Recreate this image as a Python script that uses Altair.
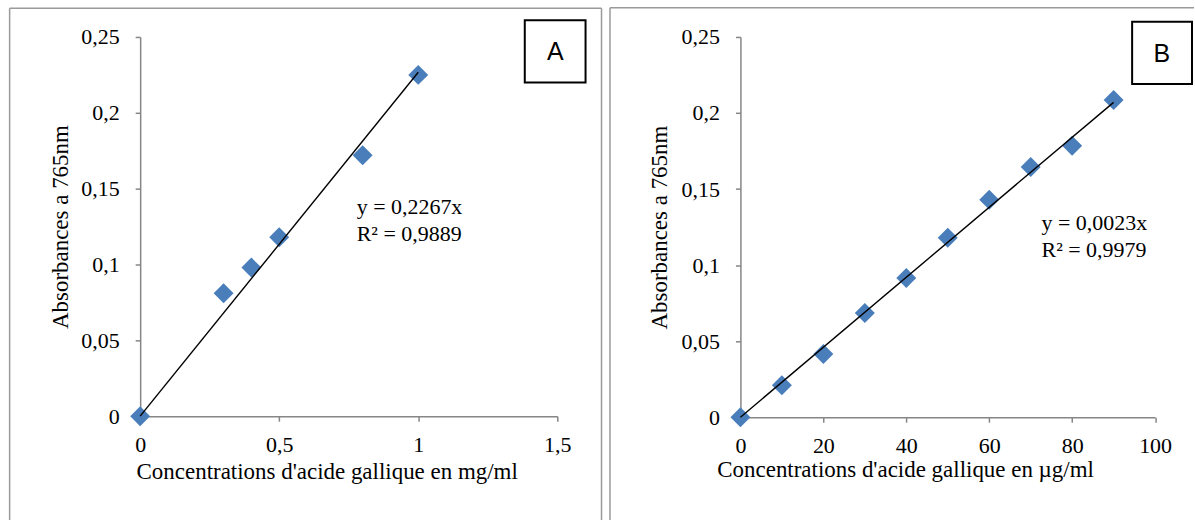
import altair as alt
import pandas as pd

# ---- data ----
conc_a = [0, 0.3, 0.4, 0.5, 0.8, 1.0]
abs_a = [0, 0.081, 0.098, 0.118, 0.172, 0.225]
trend_a_x = [0, 1.0]
trend_a_y = [0, 0.2267]
eq_a = ["y = 0,2267x", "R² = 0,9889"]

conc_b = [0, 10, 20, 30, 40, 50, 60, 70, 80, 90]
abs_b = [0, 0.021, 0.0415, 0.0685, 0.0915, 0.118, 0.143, 0.1645, 0.1785, 0.2085]
trend_b_x = [0, 90]
trend_b_y = [0, 0.207]
eq_b = ["y = 0,0023x", "R² = 0,9979"]

y_ticks = [0, 0.05, 0.1, 0.15, 0.2, 0.25]
x_ticks_a = [0, 0.5, 1, 1.5]
x_ticks_b = [0, 20, 40, 60, 80, 100]

SERIF = "Liberation Serif"
BLUE = "#4a7ebb"
FRAME = "#9a9a9a"
AXIS = "#868686"
LABEL_EXPR = "replace(format(datum.value, '~g'), '.', ',')"

one = pd.DataFrame({"k": [0]})


def panel(conc, absb, tx, ty, xdom, xticks, W, H, xtitle, xtx, xty, ytx,
          frame, box, letter, eq, eqpos):
    df = pd.DataFrame({"c": conc, "a": absb})
    tdf = pd.DataFrame({"c": tx, "a": ty})

    xs = alt.Scale(domain=xdom, nice=False, zero=False)
    ys = alt.Scale(domain=[0, 0.25], nice=False)

    xax = alt.Axis(values=xticks, labelExpr=LABEL_EXPR, title=xtitle,
                   titleX=xtx, titleY=xty, titleAlign="center",
                   titleBaseline="alphabetic", labelPadding=13.5,
                   labelFlush=False, labelOverlap=False)
    yax = alt.Axis(values=y_ticks, labelExpr=LABEL_EXPR, title="Absorbances a 765nm",
                   titleX=ytx, titleY=H / 2, titleAlign="center", titleAngle=270,
                   titleBaseline="alphabetic", labelPadding=16,
                   labelFlush=False, labelOverlap=False)

    pts = alt.Chart(df).mark_point(shape="diamond", filled=True, size=400,
                                   color=BLUE, opacity=1).encode(
        x=alt.X("c:Q", scale=xs, axis=xax),
        y=alt.Y("a:Q", scale=ys, axis=yax),
    )
    line = alt.Chart(tdf).mark_line(color="black", strokeWidth=1.4).encode(
        x=alt.X("c:Q", scale=xs),
        y=alt.Y("a:Q", scale=ys),
    )

    fl, fr, ft, fb, has_right = frame
    layers = [pts, line]
    base = alt.Chart(one)
    layers.append(base.mark_rule(color=FRAME, strokeWidth=1.5).encode(
        x=alt.value(fl), y=alt.value(ft), y2=alt.value(fb)))
    layers.append(base.mark_rule(color=FRAME, strokeWidth=1.5).encode(
        x=alt.value(fl), x2=alt.value(fr), y=alt.value(ft)))
    if has_right:
        layers.append(base.mark_rule(color=FRAME, strokeWidth=1.5).encode(
            x=alt.value(fr), y=alt.value(ft), y2=alt.value(fb)))

    bx1, bx2, by1, by2, lx, ly = box
    layers.append(base.mark_rect(fill="white", stroke="black", strokeWidth=2).encode(
        x=alt.value(bx1), x2=alt.value(bx2), y=alt.value(by1), y2=alt.value(by2)))
    layers.append(base.mark_text(font="Liberation Sans", fontSize=25, color="black",
                                 align="center", baseline="alphabetic").encode(
        x=alt.value(lx), y=alt.value(ly), text=alt.value(letter)))

    ex, ey, lh = eqpos
    layers.append(base.mark_text(font=SERIF, fontSize=22, color="black", align="left",
                                 baseline="alphabetic", lineHeight=lh).encode(
        x=alt.value(ex), y=alt.value(ey), text=alt.value(eq)))

    return alt.layer(*layers).properties(width=W, height=H)


pa = panel(conc_a, abs_a, trend_a_x, trend_a_y, [0, 1.5], x_ticks_a, 418, 380,
           "Concentrations d'acide gallique en mg/ml", 186.9, 62, -73,
           (-130.8, 462.3, -28.7, 484, True),
           (385.4, 446.3, -16.65, 45.75, 415.9, 23.4),
           "A", eq_a, (217, 177, 27.5))

pb = panel(conc_b, abs_b, trend_b_x, trend_b_y, [0, 100], x_ticks_b, 415.5, 381,
           "Concentrations d'acide gallique en µg/ml", 165, 59.3, -73.6,
           (-130.7, 454.5, -29.35, 485.3, False),
           (392.5, 452.5, -15.35, 47.05, 422.3, 24.6),
           "B", eq_b, (301.7, 193.6, 26.7))

chart = alt.hconcat(pa, pb, spacing=5.5).properties(
    padding={"left": 8.45, "top": 5.5, "right": 0, "bottom": 0},
    background="white",
).configure_view(stroke=None).configure_axis(
    labelFont=SERIF, titleFont=SERIF, labelFontSize=22, titleFontSize=23,
    titleFontWeight="normal", labelColor="black", titleColor="black",
    domainColor=AXIS, tickColor=AXIS, domainWidth=1.5, tickWidth=1.5,
    tickSize=5, grid=False,
)

chart.save("out.html", embed_options={"renderer": "svg", "actions": False})
